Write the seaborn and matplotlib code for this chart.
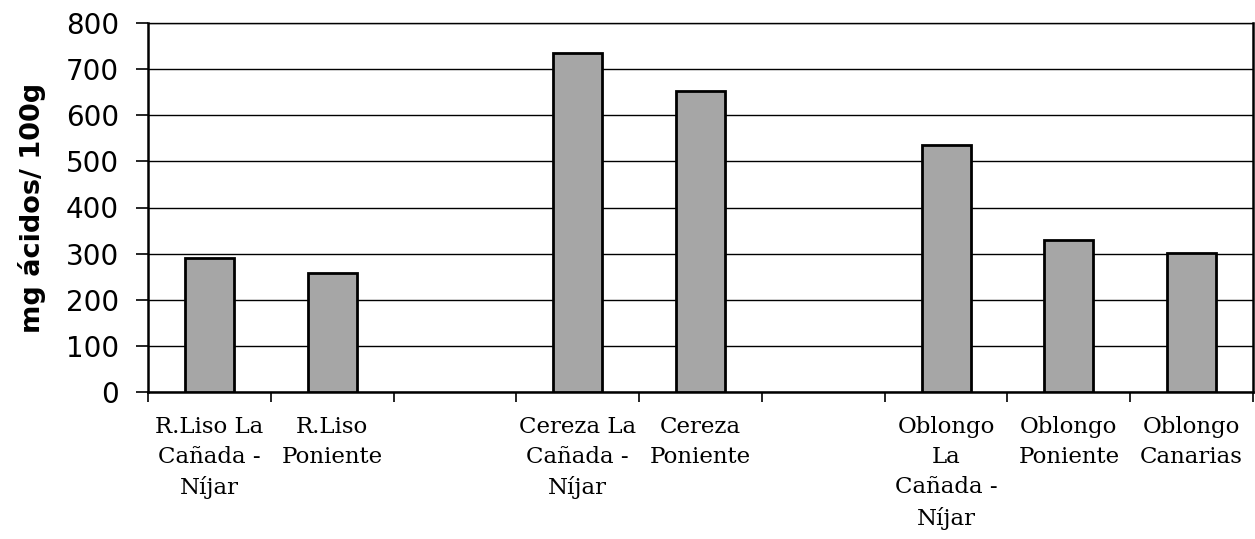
import matplotlib
matplotlib.use("Agg")
import matplotlib.pyplot as plt
import seaborn as sns
import numpy as np
import pandas as pd

# Data
slots = ["s1", "s2", "gap1", "s3", "s4", "gap2", "s5", "s6", "s7"]
labels = ["R.Liso La\nCañada -\nNíjar", "R.Liso\nPoniente", "",
          "Cereza La\nCañada -\nNíjar", "Cereza\nPoniente", "",
          "Oblongo\nLa\nCañada -\nNíjar", "Oblongo\nPoniente", "Oblongo\nCanarias"]
values = [291, 257, np.nan, 734, 653, np.nan, 535, 329, 301]
yticks = [0, 100, 200, 300, 400, 500, 600, 700, 800]

df = pd.DataFrame({"slot": slots, "value": values})

sns.set_theme(style="white")
plt.rcParams['font.family'] = ['DejaVu Sans']
plt.rcParams['text.color'] = 'black'
plt.rcParams['xtick.color'] = 'black'
plt.rcParams['ytick.color'] = 'black'
plt.rcParams['axes.labelcolor'] = 'black'

fig = plt.figure(figsize=(12.55, 5.39), dpi=100)
ax = fig.add_axes([148/1255, 1 - 392/539, (1253-148)/1255, (392-23)/539])

sns.barplot(data=df, x="slot", y="value", order=slots, color="#A6A6A6",
            edgecolor="black", linewidth=2.0, width=0.4, saturation=1, ax=ax,
            zorder=3)

ax.set_xlim(-0.5, len(slots) - 0.5)
ax.set_ylim(0, 800)
ax.set_yticks(yticks)
ax.set_yticklabels([str(t) for t in yticks], fontsize=20, family="DejaVu Sans")
ax.yaxis.grid(True, color="black", linewidth=1.0, zorder=0)
ax.set_axisbelow(True)

# major ticks at slot boundaries, labels at centers via minor ticks
ax.set_xticks(np.arange(-0.5, len(slots), 1.0))
ax.set_xticklabels([])
ax.set_xticks(np.arange(len(slots)), minor=True)
ax.set_xticklabels(labels, minor=True, fontsize=16.5, family="DejaVu Serif",
                   linespacing=1.48, va="top")
ax.tick_params(axis="x", which="major", direction="out", length=7, width=1.2,
               color="black", bottom=True)
ax.tick_params(axis="x", which="minor", length=0, pad=17)
ax.tick_params(axis="y", direction="out", length=9, width=1.2, color="black",
               left=True, pad=12)

ax.set_xlabel("")
ax.set_ylabel("mg ácidos/ 100g", fontsize=19.5, fontweight="bold",
              family="DejaVu Sans", labelpad=14)

for s in ax.spines.values():
    s.set_visible(True)
    s.set_color("black")
    s.set_linewidth(1.8)
ax.spines["top"].set_linewidth(1.0)

fig.savefig("out.png", dpi=100)
